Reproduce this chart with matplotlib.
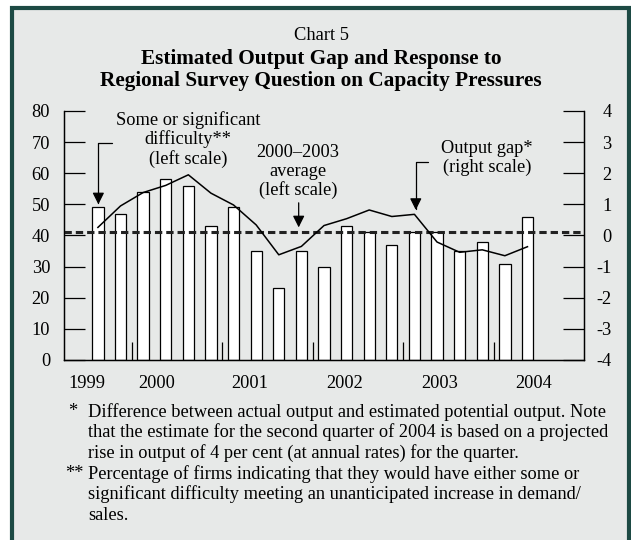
import numpy as np
import matplotlib.pyplot as plt
import matplotlib.patches as mpatches

plt.rcParams['font.family'] = ['Liberation Serif', 'DejaVu Serif']
plt.rcParams['axes.unicode_minus'] = False

# quarterly data, 1999Q3 .. 2004Q2
quarters = ['1999Q3', '1999Q4',
            '2000Q1', '2000Q2', '2000Q3', '2000Q4',
            '2001Q1', '2001Q2', '2001Q3', '2001Q4',
            '2002Q1', '2002Q2', '2002Q3', '2002Q4',
            '2003Q1', '2003Q2', '2003Q3', '2003Q4',
            '2004Q1', '2004Q2']
# some or significant difficulty, % of firms (left scale)
difficulty = [49, 47, 54, 58, 56, 43, 49, 35, 23, 35,
              30, 43, 41, 37, 41, 41, 35, 38, 31, 46]
# output gap, % (right scale)
output_gap = [0.26, 0.95, 1.38, 1.61, 1.95, 1.36, 0.98, 0.34, -0.62, -0.35,
              0.32, 0.54, 0.82, 0.61, 0.68, -0.21, -0.54, -0.46, -0.65, -0.36]
years = ['1999', '2000', '2001', '2002', '2003', '2004']

# x is counted in quarters from the start of 1999
x = np.arange(len(quarters)) + 2.5
year_label_pos = [2.0, 5.1, 9.2, 13.4, 17.6, 21.75]
avg = np.mean(difficulty[2:18])  # 2000-2003 average

FS = 13.2
W, H = 631, 540
def fx(px):
    return px / W
def fy(py):
    return 1 - py / H

fig = plt.figure(figsize=(W / 100, H / 100), dpi=100, facecolor='white')

# grey panel with dark green frame
panel = mpatches.Rectangle((fx(12), fy(600)), (629 - 12) / W, (600 - 8) / H,
                           transform=fig.transFigure, facecolor='#e7e9e8',
                           edgecolor='#1d4a44', linewidth=3, zorder=0)
fig.add_artist(panel)

# titles
fig.text(fx(321), fy(36), 'Chart 5', ha='center', va='center', fontsize=13.3)
fig.text(fx(321), fy(59), 'Estimated Output Gap and Response to',
         ha='center', va='center', fontsize=15.3, fontweight='bold')
fig.text(fx(321), fy(81), 'Regional Survey Question on Capacity Pressures',
         ha='center', va='center', fontsize=15.3, fontweight='bold')

ax = fig.add_axes([fx(64), fy(360), (584 - 64) / W, (360 - 111) / H])
ax.set_facecolor('none')
ax2 = ax.twinx()

ax.bar(x, difficulty, width=0.5, color='white', edgecolor='black',
       linewidth=0.9, zorder=2)
ax.axhline(avg, color='#222222', linestyle=(0, (2.4, 1.3)), linewidth=2.2,
           zorder=3)
ax2.plot(x, output_gap, color='black', linewidth=1.1)

ax.set_xlim(1, 24)
ax.set_ylim(0, 80)
ax2.set_ylim(-4, 4)

ax.set_yticks(range(0, 81, 10))
ax2.set_yticks(range(-4, 5))
ax.tick_params(axis='y', direction='in', length=15, width=0.9, pad=10,
               labelsize=FS)
ax2.tick_params(axis='y', direction='in', length=15, width=0.9, pad=20,
                labelsize=FS)
for lab in ax2.get_yticklabels():
    lab.set_horizontalalignment('right')

# year separators as major ticks, year names as minor tick labels
ax.set_xticks([4, 8, 12, 16, 20])
ax.set_xticklabels([])
ax.set_xticks(year_label_pos, years, minor=True)
ax.tick_params(axis='x', which='major', direction='in', length=13, width=0.9)
ax.tick_params(axis='x', which='minor', length=0, pad=10.5, labelsize=FS)

for a in (ax, ax2):
    a.spines['top'].set_visible(False)
    for s in ('left', 'right', 'bottom'):
        a.spines[s].set_linewidth(0.9)

arrow = dict(arrowstyle='-|>,head_length=0.7,head_width=0.35',
             color='black', lw=0.9, shrinkA=0, shrinkB=0)
elbow = dict(arrow, connectionstyle='angle,angleA=0,angleB=90,rad=0')

# annotations
ax.text(6.49, 70.9, 'Some or significant\ndifficulty**\n(left scale)',
        ha='center', va='center', fontsize=FS, linespacing=1.1)
ax.annotate('', xy=(2.52, 50.0), xytext=(3.14, 69.8), arrowprops=elbow)

ax.text(11.35, 60.5, '2000\u20132003\naverage\n(left scale)',
        ha='center', va='center', fontsize=FS, linespacing=1.1)
ax.annotate('', xy=(11.38, 42.6), xytext=(11.38, 50.5), arrowprops=arrow)

ax.text(19.7, 64.9, 'Output gap*\n(right scale)',
        ha='center', va='center', fontsize=FS, linespacing=1.1)
ax.annotate('', xy=(16.56, 48.2), xytext=(17.12, 63.7), arrowprops=elbow)

# footnotes
notes = [
    ('*', 'Difference between actual output and estimated potential output. Note'),
    ('', 'that the estimate for the second quarter of 2004 is based on a projected'),
    ('', 'rise in output of 4 per cent (at annual rates) for the quarter.'),
    ('**', 'Percentage of firms indicating that they would have either some or'),
    ('', 'significant difficulty meeting an unanticipated increase in demand/'),
    ('', 'sales.'),
]
note_y = [412, 432.5, 453, 474, 494.5, 515.5]
for (mark, line), yy in zip(notes, note_y):
    if mark:
        fig.text(fx(65 if mark == '**' else 68), fy(yy), mark, ha='left',
                 va='center', fontsize=FS)
    fig.text(fx(88), fy(yy), line, ha='left', va='center', fontsize=FS)

fig.savefig('out.png', dpi=100)
